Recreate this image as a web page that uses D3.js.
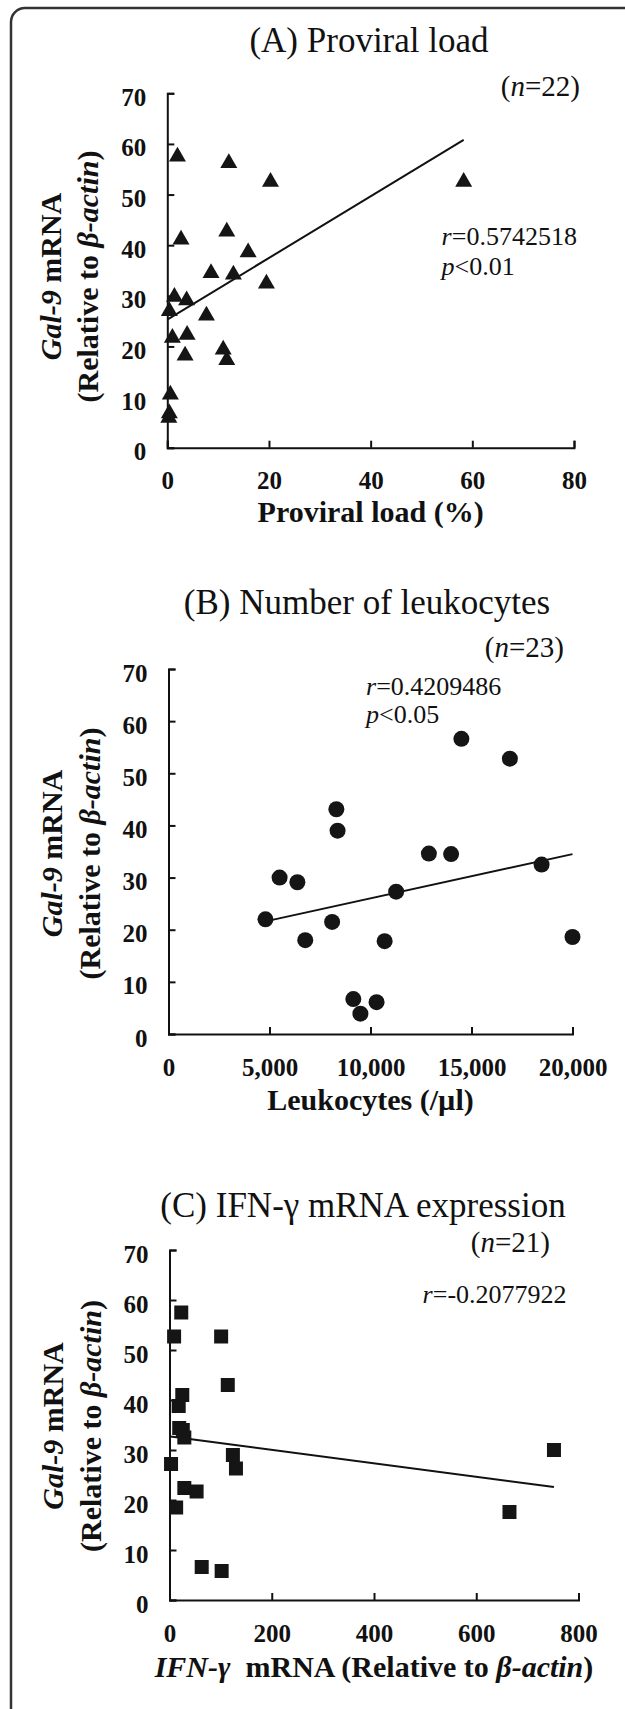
<!DOCTYPE html>
<html>
<head>
<meta charset="utf-8">
<script src="https://cdn.jsdelivr.net/npm/d3@7"></script>
<style>
  body { margin: 0; background: #fff; }
  svg text { font-family: "Liberation Serif", "Times New Roman", serif; fill: #111; }
</style>
</head>
<body>
<svg id="fig" width="625" height="1709"></svg>
<script>
// (A) proviral load vs Gal-9
const provLoad = [2.0, 12.1, 20.3, 2.7, 11.7, 15.9, 8.6, 13.0, 19.5, 1.4, 3.8, 0.4, 7.7, 1.0, 3.9, 3.5, 11.0, 11.7, 0.6, 0.4, 0.3, 58.3];
const gal9A    = [57.5, 56.2, 52.5, 41.1, 42.7, 38.6, 34.5, 34.2, 32.4, 29.8, 29.1, 27.0, 26.1, 21.7, 22.3, 18.2, 19.4, 17.3, 10.5, 6.8, 5.9, 52.5];
const fitA = [[0, 25.3], [58.3, 60.8]];

// (B) leukocytes vs Gal-9
const leuko = [14500, 16900, 8310, 8370, 12890, 13990, 18470, 5500, 6380, 11270, 4800, 8100, 6770, 10700, 20000, 9150, 10300, 9500];
const gal9B = [56.6, 52.8, 43.1, 39.0, 34.6, 34.5, 32.5, 30.0, 29.1, 27.3, 22.0, 21.5, 18.0, 17.8, 18.6, 6.7, 6.1, 3.9];
const fitB = [[4800, 21.6], [20000, 34.5]];

// (C) IFN-gamma vs Gal-9
const ifng  = [23, 9, 101, 114, 25, 18, 19, 26, 29, 3, 124, 130, 29, 53, 13, 63, 102, 665, 752];
const gal9C = [57.5, 52.7, 52.7, 43.0, 41.0, 38.8, 34.4, 34.0, 32.5, 27.2, 29.0, 26.3, 22.4, 21.7, 18.5, 6.6, 5.8, 17.6, 30.0];
const fitC = [[2, 32.7], [752, 22.6]];

const yTicks = [0, 10, 20, 30, 40, 50, 60, 70];
const titles = ["(A) Proviral load", "(B) Number of leukocytes", "(C) IFN-\u03b3 mRNA expression"];
const nLabels = ["22", "23", "21"];
const rLabels = ["0.5742518", "0.4209486", "-0.2077922"];
const pLabels = ["0.01", "0.05", null];

const FONT = "Liberation Serif, Times New Roman, serif";
const svg = d3.select("#fig");

// outer frame, open to the right and bottom
svg.append("path")
  .attr("d", "M11,1720 V22 A14,14 0 0 1 25,8 H640")
  .attr("fill", "none").attr("stroke", "#333").attr("stroke-width", 2.5);

const panels = [
  { xs: provLoad, ys: gal9A, fit: fitA, xDomain: [0, 80], xTicks: [0, 20, 40, 60, 80], fmt: d3.format("d"),
    left: 167.3, right: 574, top: 93.3, bottom: 447.7, sym: d3.symbolTriangle, size: 125,
    titleX: 369, titleY: 52, nX: 580, nY: 96, rX: 441.6, rY: 245, pY: 275, yMid: 6, xtY: 74 },
  { xs: leuko, ys: gal9B, fit: fitB, xDomain: [0, 20000], xTicks: [0, 5000, 10000, 15000, 20000], fmt: d3.format(","),
    left: 168.5, right: 572.5, top: 669, bottom: 1034, sym: d3.symbolCircle, size: 201,
    titleX: 367, titleY: 614, nX: 564, nY: 657, rX: 366, rY: 695, pY: 723, yMid: 2, xtY: 76 },
  { xs: ifng, ys: gal9C, fit: fitC, xDomain: [0, 800], xTicks: [0, 200, 400, 600, 800], fmt: d3.format("d"),
    left: 169.5, right: 578.5, top: 1250, bottom: 1600, sym: d3.symbolSquare, size: 196,
    titleX: 363, titleY: 1217, nX: 550, nY: 1252, rX: 422.6, rY: 1303, pY: null, yMid: 1, xtY: 77 }
];

function addRuns(sel, runs) {
  runs.forEach(([t, italic]) => {
    sel.append("tspan").text(t).attr("font-style", italic ? "italic" : null);
  });
}

panels.forEach((p, i) => {
  const x = d3.scaleLinear().domain(p.xDomain).range([p.left, p.right]);
  const y = d3.scaleLinear().domain([0, 70]).range([p.bottom, p.top]);
  const g = svg.append("g").attr("font-family", FONT);

  const xAxis = g.append("g")
    .attr("transform", `translate(0,${p.bottom})`)
    .call(d3.axisBottom(x).tickValues(p.xTicks).tickFormat(p.fmt)
      .tickSizeInner(-7).tickSizeOuter(-7).tickPadding(24));
  const yAxis = g.append("g")
    .attr("transform", `translate(${p.left},0)`)
    .call(d3.axisLeft(y).tickValues(yTicks).tickFormat(d3.format("d"))
      .tickSizeInner(-7).tickSizeOuter(-7).tickPadding(21));
  [xAxis, yAxis].forEach(a => {
    a.attr("font-family", FONT);
    a.selectAll("path, line").attr("stroke", "#111").attr("stroke-width", 2);
    a.selectAll("text").attr("font-size", 25).attr("font-weight", "bold").attr("fill", "#111");
  });
  yAxis.selectAll("text").attr("dy", "0.48em");

  // fitted line
  g.append("line")
    .attr("x1", x(p.fit[0][0])).attr("y1", y(p.fit[0][1]))
    .attr("x2", x(p.fit[1][0])).attr("y2", y(p.fit[1][1]))
    .attr("stroke", "#111").attr("stroke-width", 2);

  // points
  g.selectAll("path.pt")
    .data(p.xs.map((v, k) => [v, p.ys[k]]))
    .join("path")
    .attr("class", "pt")
    .attr("transform", d => `translate(${x(d[0])},${y(d[1])})`)
    .attr("d", d3.symbol().type(p.sym).size(p.size))
    .attr("fill", "#151515");

  // title
  g.append("text").attr("x", p.titleX).attr("y", p.titleY)
    .attr("text-anchor", "middle").attr("font-size", 35).text(titles[i]);

  // n
  addRuns(g.append("text").attr("x", p.nX).attr("y", p.nY)
    .attr("text-anchor", "end").attr("font-size", 29),
    [["(", false], ["n", true], ["=" + nLabels[i] + ")", false]]);

  // r and p
  addRuns(g.append("text").attr("x", p.rX).attr("y", p.rY).attr("font-size", 26),
    [["r", true], ["=" + rLabels[i], false]]);
  if (pLabels[i]) {
    addRuns(g.append("text").attr("x", p.rX).attr("y", p.pY).attr("font-size", 26),
      [["p", true], ["<" + pLabels[i], false]]);
  }

  // y title (two lines)
  const midY = (p.top + p.bottom) / 2 + p.yMid;
  addRuns(g.append("text")
    .attr("transform", `translate(${p.left - 117},${midY}) rotate(-90)`)
    .attr("text-anchor", "middle").attr("dy", "0.35em")
    .attr("font-size", 30).attr("font-weight", "bold"),
    [["Gal-9", true], [" mRNA", false]]);
  addRuns(g.append("text")
    .attr("transform", `translate(${p.left - 79.5},${midY}) rotate(-90)`)
    .attr("text-anchor", "middle").attr("dy", "0.35em")
    .attr("font-size", 30).attr("font-weight", "bold"),
    [["(Relative to ", false], ["\u03b2-actin", true], [")", false]]);

  // x title
  const xt = g.append("text").attr("x", (p.left + p.right) / 2).attr("y", p.bottom + p.xtY)
    .attr("text-anchor", "middle").attr("font-size", 30).attr("font-weight", "bold");
  if (i === 0) addRuns(xt, [["Proviral load (%)", false]]);
  if (i === 1) addRuns(xt, [["Leukocytes (/\u00b5l)", false]]);
  if (i === 2) addRuns(xt, [["IFN-\u03b3", true], ["\u00a0 mRNA (Relative to ", false], ["\u03b2-actin", true], [")", false]]);
});
</script>
</body>
</html>
